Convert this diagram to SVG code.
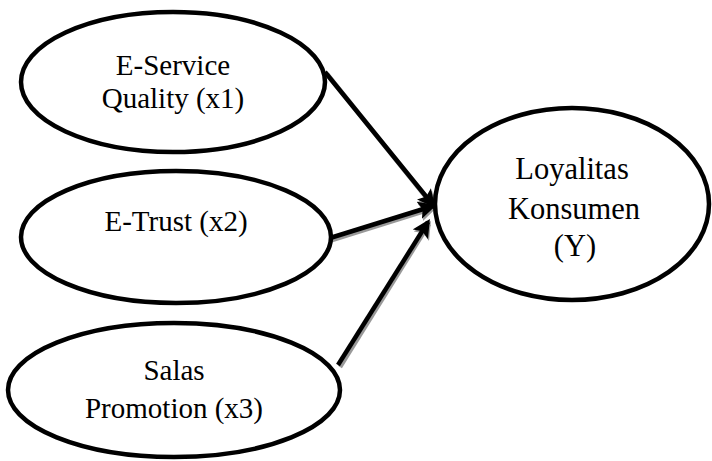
<svg xmlns="http://www.w3.org/2000/svg" width="712" height="461" viewBox="0 0 712 461">
<style>
.node ellipse{fill:#fff;stroke:#000;stroke-width:4.5}
.node text{font-family:"Liberation Serif","Times New Roman",serif;font-size:29px;fill:#000;text-anchor:middle}
#node-y text{font-size:30.5px}
.edge{stroke:#000;stroke-width:4.5;fill:none}
.shadow{stroke:#999;stroke-width:4.5;fill:none}
</style>
<defs>
<marker id="ah" markerWidth="4" markerHeight="4" refX="3.2" refY="2" orient="auto" markerUnits="strokeWidth">
<path d="M0,0 L4,2 L0,4 L0.8,2 Z" fill="#000"/>
</marker>
<marker id="ahs" markerWidth="4" markerHeight="4" refX="3.2" refY="2" orient="auto" markerUnits="strokeWidth">
<path d="M0,0 L4,2 L0,4 L0.8,2 Z" fill="#999"/>
</marker>
</defs>
<g id="connectors">
<line class="shadow" x1="327" y1="74" x2="434" y2="207" marker-end="url(#ahs)"/>
<line class="shadow" x1="332" y1="240" x2="434" y2="208" marker-end="url(#ahs)"/>
<line class="shadow" x1="340" y1="367" x2="429" y2="224" marker-end="url(#ahs)"/>
<line class="edge" x1="325" y1="72" x2="433" y2="205" marker-end="url(#ah)"/>
<line class="edge" x1="330" y1="238" x2="433" y2="206" marker-end="url(#ah)"/>
<line class="edge" x1="338" y1="365" x2="428" y2="222" marker-end="url(#ah)"/>
</g>
<g id="node-x1" class="node">
<ellipse cx="173" cy="82" rx="152" ry="70"/>
<text x="173" y="75">E-Service</text>
<text x="173" y="108">Quality (x1)</text>
</g>
<g id="node-x2" class="node">
<ellipse cx="176" cy="237" rx="155" ry="66"/>
<text x="176" y="231">E-Trust (x2)</text>
</g>
<g id="node-x3" class="node">
<ellipse cx="174" cy="390" rx="166" ry="67"/>
<text x="174" y="380">Salas</text>
<text x="174" y="418">Promotion (x3)</text>
</g>
<g id="node-y" class="node">
<ellipse cx="572" cy="204" rx="137" ry="96"/>
<text x="572" y="179">Loyalitas</text>
<text x="574" y="219">Konsumen</text>
<text x="575" y="256">(Y)</text>
</g>
</svg>
